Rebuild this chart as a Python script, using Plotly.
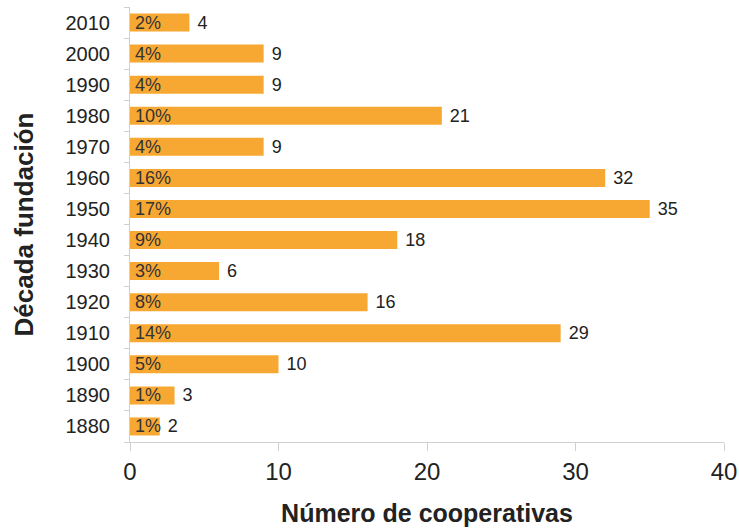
import plotly.graph_objects as go

decades = ["1880", "1890", "1900", "1910", "1920", "1930", "1940", "1950", "1960", "1970", "1980", "1990", "2000", "2010"]
counts = [2, 3, 10, 29, 16, 6, 18, 35, 32, 9, 21, 9, 9, 4]
percents = ["1%", "1%", "5%", "14%", "8%", "3%", "9%", "17%", "16%", "4%", "10%", "4%", "4%", "2%"]

FONT = "Liberation Sans, Arial, Helvetica, sans-serif"
ORANGE = "#F7A833"
TXT = "#222222"

fig = go.Figure()
fig.add_trace(go.Bar(
    y=decades, x=counts, orientation="h",
    marker=dict(color=ORANGE, line=dict(width=0)),
    text=[" " + str(c) for c in counts], textposition="outside",
    textfont=dict(family=FONT, size=18, color=TXT),
    cliponaxis=False, width=0.58,
))
for i, p in enumerate(percents):
    fig.add_annotation(x=0, y=i, xref="x", yref="y", text=p, showarrow=False,
                       xanchor="left", xshift=3,
                       font=dict(family=FONT, size=18, color="#333333"))

fig.update_layout(
    width=739, height=528,
    margin=dict(l=130, r=15, t=7, b=86),
    paper_bgcolor="white", plot_bgcolor="white",
    showlegend=False,
    font=dict(family=FONT, color=TXT),
    uniformtext=dict(minsize=18, mode="show"),
)
fig.update_xaxes(
    range=[0, 40], dtick=10, showgrid=False, zeroline=False, automargin=False,
    showline=True, linecolor="#d0d0d0", linewidth=1,
    ticks="outside", ticklen=8, tickcolor="#d0d0d0",
    ticklabelstandoff=0,
    tickfont=dict(family=FONT, size=24, color=TXT),
    title=dict(text="<b>Número de cooperativas</b>", font=dict(family=FONT, size=25, color=TXT), standoff=20),
)
fig.update_yaxes(
    type="category", automargin=False,
    categoryorder="array", categoryarray=decades,
    range=[-0.5, 13.5],
    showgrid=False, zeroline=False,
    showline=True, linecolor="#d0d0d0", linewidth=1,
    ticks="outside", ticklen=5, tickcolor="#d0d0d0", tickson="boundaries",
    ticklabelstandoff=15,
    tickfont=dict(family=FONT, size=20, color=TXT),
    title=dict(text="<b>Década fundación</b>", font=dict(family=FONT, size=26, color=TXT), standoff=24),
)

fig.write_html(
    "out.html",
    config={"displayModeBar": False},
    post_script="document.body.style.margin='0';document.body.style.overflow='hidden';",
)
